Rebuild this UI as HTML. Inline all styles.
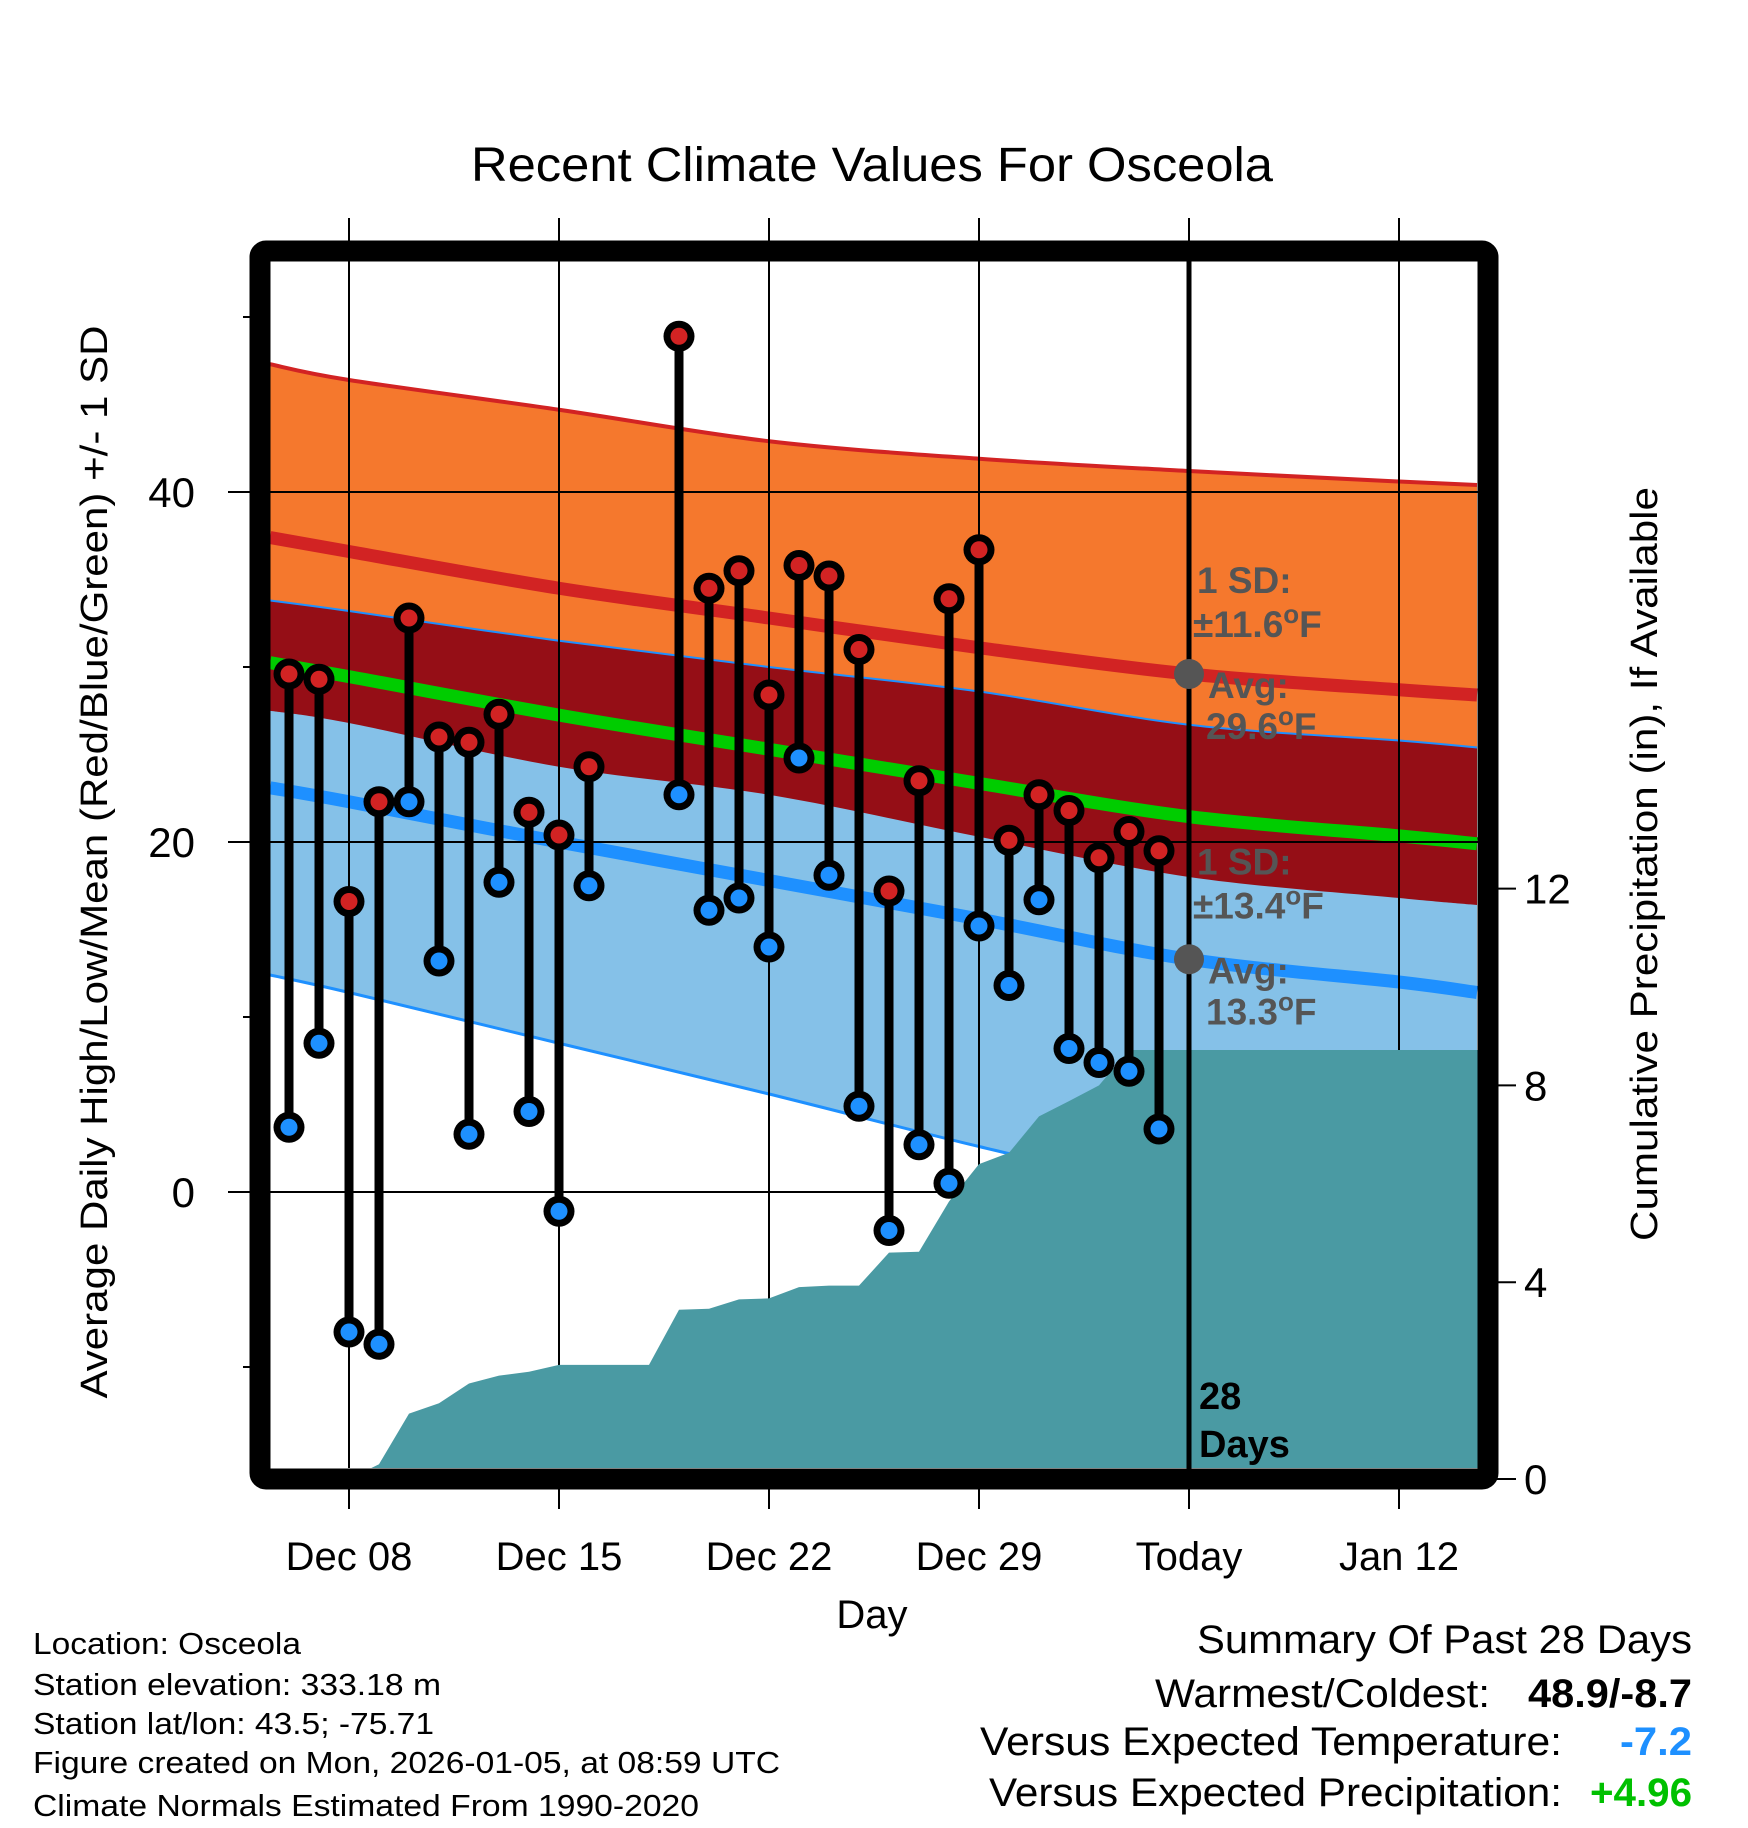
<!DOCTYPE html>
<html><head><meta charset="utf-8">
<style>
html,body{margin:0;padding:0;background:#fff;}
svg{display:block;font-family:"Liberation Sans",Arial,sans-serif;}
</style></head>
<body>
<svg id="chart" xmlns="http://www.w3.org/2000/svg" width="1748" height="1828" viewBox="0 0 1748 1828">
  <rect x="0" y="0" width="1748" height="1828" fill="#fff"/>
  <defs><clipPath id="plotclip"><rect x="270" y="261" width="1208" height="1207"/></clipPath></defs>
  <g id="bands" clip-path="url(#plotclip)"></g>
  <g id="grid" clip-path="url(#plotclip)"></g>
  <g id="precip" clip-path="url(#plotclip)"></g>
  <g id="outgrid"></g>
  <g id="series" clip-path="url(#plotclip)"></g>
  <g id="annot"></g>
  <rect x="260" y="251" width="1228" height="1228" rx="6" fill="none" stroke="#000" stroke-width="21"/>
  <g id="axes"></g>
  <text x="872" y="181" font-size="48" text-anchor="middle" textLength="802" lengthAdjust="spacingAndGlyphs">Recent Climate Values For Osceola</text>
  <text x="872" y="1628" font-size="40" text-anchor="middle">Day</text>
  <text transform="translate(107,862) rotate(-90)" font-size="38" text-anchor="middle" textLength="1073" lengthAdjust="spacingAndGlyphs">Average Daily High/Low/Mean (Red/Blue/Green) +/- 1 SD</text>
  <text transform="translate(1657,864) rotate(-90)" font-size="38" text-anchor="middle" textLength="754" lengthAdjust="spacingAndGlyphs">Cumulative Precipitation (in), If Available</text>
  <g font-size="31">
    <text x="33" y="1654" textLength="268" lengthAdjust="spacingAndGlyphs">Location: Osceola</text>
    <text x="33" y="1695" textLength="408" lengthAdjust="spacingAndGlyphs">Station elevation: 333.18 m</text>
    <text x="33" y="1734" textLength="401" lengthAdjust="spacingAndGlyphs">Station lat/lon: 43.5; -75.71</text>
    <text x="33" y="1773" textLength="747" lengthAdjust="spacingAndGlyphs">Figure created on Mon, 2026-01-05, at 08:59 UTC</text>
    <text x="33" y="1816" textLength="666" lengthAdjust="spacingAndGlyphs">Climate Normals Estimated From 1990-2020</text>
  </g>
  <g font-size="40">
    <text x="1197" y="1653" textLength="495" lengthAdjust="spacingAndGlyphs">Summary Of Past 28 Days</text>
    <text x="1155" y="1707" textLength="335" lengthAdjust="spacingAndGlyphs">Warmest/Coldest:</text>
    <text x="1528" y="1707" font-weight="bold" textLength="164" lengthAdjust="spacingAndGlyphs">48.9/-8.7</text>
    <text x="980" y="1755" textLength="582" lengthAdjust="spacingAndGlyphs">Versus Expected Temperature:</text>
    <text x="1620" y="1755" font-weight="bold" fill="#1e90ff" textLength="72" lengthAdjust="spacingAndGlyphs">-7.2</text>
    <text x="989" y="1806" textLength="573" lengthAdjust="spacingAndGlyphs">Versus Expected Precipitation:</text>
    <text x="1590" y="1806" font-weight="bold" fill="#00c000" textLength="102" lengthAdjust="spacingAndGlyphs">+4.96</text>
  </g>
</svg>
<script>
// ---- data (days relative to Dec 08) ----
const normDays = [-2.63, 0, 7, 14, 21, 28, 35, 37.6];
const highMean = [37.4, 36.6, 34.5, 32.8, 31.1, 29.6, 28.7, 28.4];
const highSD   = [9.9, 9.8, 10.2, 10.1, 10.8, 11.6, 11.9, 12.0];
const lowMean  = [23.1, 22.3, 20.0, 17.8, 15.6, 13.3, 12.0, 11.4];
const lowSD    = [10.7, 10.9, 11.5, 12.2, 13.0, 13.4, 13.8, 14.0];
const obsDays  = [-2,-1,0,1,2,3,4,5,6,7,8,11,12,13,14,15,16,17,18,19,20,21,22,23,24,25,26,27];
const obsHigh  = [29.6,29.3,16.6,22.3,32.8,26.0,25.7,27.3,21.7,20.4,24.3,48.9,34.5,35.5,28.4,35.8,35.2,31.0,17.2,23.5,33.9,36.7,20.1,22.7,21.8,19.1,20.6,19.5];
const obsLow   = [3.7,8.5,-8.0,-8.7,22.3,13.2,3.3,17.7,4.6,-1.1,17.5,22.7,16.1,16.8,14.0,24.8,18.1,4.9,-2.2,2.7,0.5,15.2,11.8,16.7,8.2,7.4,6.9,3.6];
const precipDays = [-1,0,1,2,3,4,5,6,7,8,9,10,11,12,13,14,15,16,17,18,19,20,21,22,23,24,25,26,27];
const precipCum  = [0,0,0.3,1.33,1.54,1.94,2.1,2.18,2.32,2.32,2.32,2.32,3.44,3.46,3.65,3.67,3.9,3.93,3.93,4.6,4.62,5.64,6.4,6.63,7.37,7.68,8.0,8.72,8.72];
const xTickDays = [0,7,14,21,28,35];
const xTickLabels = ["Dec 08","Dec 15","Dec 22","Dec 29","Today","Jan 12"];
const yMajor = [0,20,40];
const yMinor = [-10,10,30,50];
const pTicks = [0,4,8,12];
const todayDay = 28;
const todayHigh = 29.6, todayHighSD = 11.6, todayLow = 13.3, todayLowSD = 13.4;

// ---- scales ----
const X = d => 349 + 30*d;
const Y = v => 1192 - 17.5*v;
const YP = p => 1479 - 49.2*p;
const NS = "http://www.w3.org/2000/svg";
function mk(tag, parent, attrs){ const e=document.createElementNS(NS,tag); for(const k in attrs) e.setAttribute(k,attrs[k]); parent.appendChild(e); return e; }
function smooth(pts){
  let d = "M"+pts[0][0]+","+pts[0][1];
  for(let i=0;i<pts.length-1;i++){
    const p0=pts[Math.max(0,i-1)],p1=pts[i],p2=pts[i+1],p3=pts[Math.min(pts.length-1,i+2)];
    const c1=[p1[0]+(p2[0]-p0[0])/6,p1[1]+(p2[1]-p0[1])/6], c2=[p2[0]-(p3[0]-p1[0])/6,p2[1]-(p3[1]-p1[1])/6];
    d+=" C"+c1[0]+","+c1[1]+" "+c2[0]+","+c2[1]+" "+p2[0]+","+p2[1];
  }
  return d;
}
function curve(vals){ return normDays.map((d,i)=>[X(d),Y(vals[i])]); }
function bandPath(upper, lower){
  const u = curve(upper), l = curve(lower).reverse();
  const sl = smooth(l);
  return smooth(u) + " L" + l[0][0]+","+l[0][1] + sl.slice(sl.indexOf(" ")) + " Z";
}
const hiUp = highMean.map((v,i)=>v+highSD[i]), hiDn = highMean.map((v,i)=>v-highSD[i]);
const loUp = lowMean.map((v,i)=>v+lowSD[i]), loDn = lowMean.map((v,i)=>v-lowSD[i]);
const midMean = highMean.map((v,i)=>(v+lowMean[i])/2);

const bands = document.getElementById('bands');
let e;
e = mk('path', bands, {d: bandPath(hiUp, hiDn), fill:'#f5782d'});


e = mk('path', bands, {d: bandPath(loUp, loDn), fill:'#85c1e8'});


e = mk('path', bands, {d: bandPath(loUp, hiDn), fill:'#950e16'});


const lineDefs = [
  [hiUp,'#d22323',4,'high-plus-sd-line'],
  [loUp,'#1e90ff',2,'low-plus-sd-line'],
  [loDn,'#1e90ff',3,'low-minus-sd-line'],
  [highMean,'#d22323',13,'high-mean-line'],
  [lowMean,'#1e90ff',13,'low-mean-line'],
  [midMean,'#00cc00',13,'mean-line']
];
lineDefs.forEach(ld=>{
  const p = mk('path', bands, {d: smooth(curve(ld[0])), fill:'none', stroke:ld[1], 'stroke-width':ld[2]});
  
  
});

// grid
const grid = document.getElementById('grid');
yMajor.forEach(v=>{
  const l = mk('line', grid, {x1:270,x2:1478,y1:Y(v),y2:Y(v),stroke:'#000','stroke-width':2});
  
  
});
const outgrid = document.getElementById('outgrid');
xTickDays.forEach(d=>{
  const l = mk('line', grid, {x1:X(d),x2:X(d),y1:261,y2:1468,stroke:'#000','stroke-width':2});
  
  
  const t1 = mk('line', outgrid, {x1:X(d),x2:X(d),y1:218,y2:245,stroke:'#000','stroke-width':2});
  
  
  const t2 = mk('line', outgrid, {x1:X(d),x2:X(d),y1:1485,y2:1509,stroke:'#000','stroke-width':2});
  
  
});

// precip area
const pg = document.getElementById('precip');
let pd = "M"+X(precipDays[0])+","+YP(0);
precipDays.forEach((d,i)=>{ pd += " L"+X(d)+","+YP(precipCum[i]); });
pd += " L1480,"+YP(precipCum[precipCum.length-1])+" L1480,"+YP(0)+" Z";
e = mk('path', pg, {d:pd, fill:'#4a9aa3'});



// series
const sg = document.getElementById('series');
obsDays.forEach((d,i)=>{
  const g = mk('g', sg, {});
  
  
  const st = mk('line', g, {x1:X(d),x2:X(d),y1:Y(obsHigh[i]),y2:Y(obsLow[i]),stroke:'#000','stroke-width':9});
  
  
  [[obsHigh[i],'#d22323','high-marker'],[obsLow[i],'#1e90ff','low-marker']].forEach(m=>{
    const o = mk('circle', g, {cx:X(d),cy:Y(m[0]),r:15.5,fill:'#000'});
    
    
    const c = mk('circle', g, {cx:X(d),cy:Y(m[0]),r:8.5,fill:m[1]});
    
    
  });
});

// today line & annotations
const an = document.getElementById('annot');
e = mk('line', an, {x1:X(todayDay),x2:X(todayDay),y1:261,y2:1470,stroke:'#000','stroke-width':5});


[[todayHigh,'high-avg-dot'],[todayLow,'low-avg-dot']].forEach(p=>{
  const c = mk('circle', an, {cx:X(todayDay),cy:Y(p[0]),r:15,fill:'#555'});
  
  
});
function annText(x,y,txt,name,sup){
  const t = mk('text', an, {x:x,y:y,'font-size':37,'font-weight':'bold',fill:'#555'});
  
  
  if(sup){
    t.appendChild(document.createTextNode(txt));
    const s = mk('tspan', t, {dy:-14,'font-size':26}); s.textContent='o';
    const f = mk('tspan', t, {dy:14}); f.textContent='F';
  } else t.textContent = txt;
}
const xa = X(todayDay);
annText(xa+8, Y(todayHigh)-81, "1 SD:", 'high-sd-label');
annText(xa+4, Y(todayHigh)-37, "\u00B1"+todayHighSD.toFixed(1), 'high-sd-value', true);
annText(xa+19, Y(todayHigh)+24, "Avg:", 'high-avg-label');
annText(xa+17, Y(todayHigh)+65, todayHigh.toFixed(1), 'high-avg-value', true);
annText(xa+8, Y(todayLow)-85, "1 SD:", 'low-sd-label');
annText(xa+4, Y(todayLow)-41, "\u00B1"+todayLowSD.toFixed(1), 'low-sd-value', true);
annText(xa+19, Y(todayLow)+24, "Avg:", 'low-avg-label');
annText(xa+17, Y(todayLow)+65, todayLow.toFixed(1), 'low-avg-value', true);
e = mk('text', an, {x:xa+10,y:1409,'font-size':38,'font-weight':'bold',fill:'#000'});
e.textContent = "28";


e = mk('text', an, {x:xa+10,y:1457,'font-size':38,'font-weight':'bold',fill:'#000'});
e.textContent = "Days";



// axes
const ax = document.getElementById('axes');
yMajor.forEach(v=>{
  const l = mk('line', ax, {x1:228,x2:252,y1:Y(v),y2:Y(v),stroke:'#000','stroke-width':2});
  
  
  const t = mk('text', ax, {x:195,y:Y(v)+15,'font-size':42,'text-anchor':'end'});
  t.textContent = String(v);
  
  
});
yMinor.forEach(v=>{
  const l = mk('line', ax, {x1:243,x2:252,y1:Y(v),y2:Y(v),stroke:'#000','stroke-width':2});
  
  
});
pTicks.forEach(p=>{
  const l = mk('line', ax, {x1:1495,x2:1516,y1:YP(p),y2:YP(p),stroke:'#000','stroke-width':2});
  
  
  const t = mk('text', ax, {x:1524,y:YP(p)+15,'font-size':42});
  t.textContent = String(p);
  
  
});
xTickDays.forEach((d,i)=>{
  const t = mk('text', ax, {x:X(d),y:1570,'font-size':40,'text-anchor':'middle'});
  t.textContent = xTickLabels[i];
  
  
});
</script>
</body></html>
